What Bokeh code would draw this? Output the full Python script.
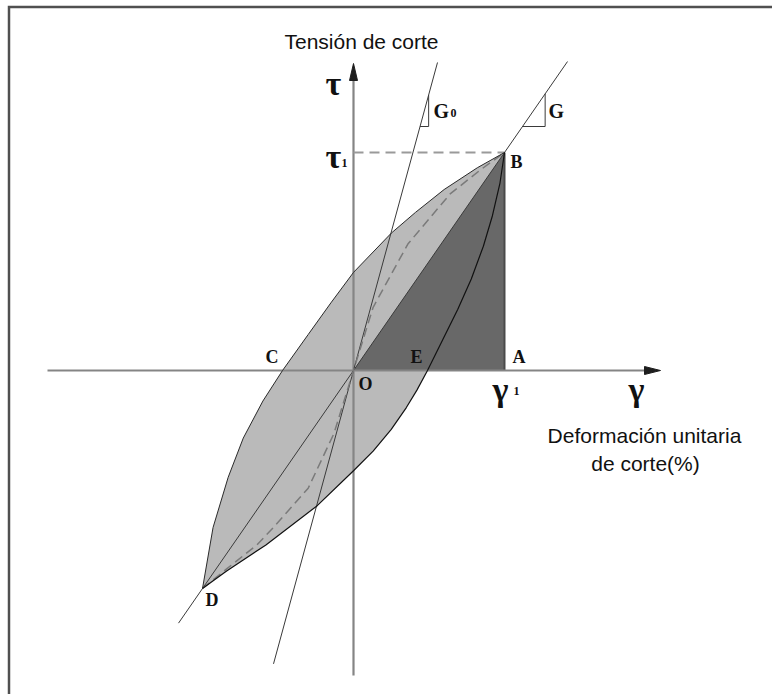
from bokeh.plotting import figure
from bokeh.models import Range1d
from bokeh.embed import file_html
from bokeh.resources import INLINE
from bokeh.core.properties import value

# ---------------- data (gamma in units of gamma1, tau in units of tau1) ----------------
gamma_upper = [-1.0, -0.93, -0.83, -0.73, -0.60, -0.47, -0.30, -0.15, 0.0, 0.25, 0.41, 0.60, 0.82, 1.0]
tau_upper = [-1.0, -0.72, -0.49, -0.31, -0.14, 0.0, 0.165, 0.31, 0.45, 0.63, 0.725, 0.83, 0.93, 1.0]

gamma_lower = [-1.0, -0.84, -0.58, -0.24, 0.0, 0.13, 0.25, 0.35, 0.42, 0.49, 0.59, 0.69, 0.78, 0.86, 0.92, 0.97, 1.0]
tau_lower = [-1.0, -0.92, -0.80, -0.62, -0.46, -0.37, -0.27, -0.17, -0.09, 0.0, 0.14, 0.28, 0.42, 0.57, 0.71, 0.86, 1.0]

gamma_backbone = [-1.0, -0.84, -0.64, -0.53, -0.30, -0.13, 0.0, 0.13, 0.36, 0.64, 0.84, 1.0]
tau_backbone = [-1.0, -0.91, -0.80, -0.72, -0.54, -0.29, 0.0, 0.29, 0.58, 0.81, 0.92, 1.0]

G_ratio = 1.0     # secant modulus G  (slope of line D-O-B)
G0_ratio = 2.54   # initial modulus G0 (relative slope)

point_names = ["O", "A", "B", "C", "D", "E"]
point_gamma = [0.0, 1.0, 1.0, -0.47, -1.0, 0.49]
point_tau = [0.0, 0.0, 1.0, 0.0, -1.0, 0.0]

title_tau = "Tensión de corte"
title_gamma = ["Deformación unitaria", "de corte(%)"]

# ---------------- layout geometry (reference image pixels) ----------------
OX, OY = 353.0, 370.0   # origin O in page pixels
SX, SY = 151.0, 218.0   # pixels per unit
W, H = 772, 694


def X(px):
    return (px - OX) / SX


def Y(py):
    return (OY - py) / SY


def TB(py, fs):
    # text baseline position, compensating renderer offset
    return Y(py - 0.35 * fs)


p = figure(width=W, height=H, output_backend="svg", toolbar_location=None,
           x_axis_type=None, y_axis_type=None, min_border=0,
           x_range=Range1d(X(0), X(W)), y_range=Range1d(Y(H), Y(0)))
p.outline_line_color = None
p.background_fill_color = "white"
p.border_fill_color = "white"
p.grid.visible = False

# frame border (left + top), running off the canvas
p.line([X(8.5), X(8.5), X(W + 20)], [Y(H + 20), Y(6.5), Y(6.5)], line_color="#505050",
       line_width=2.5, line_join="miter")

# hysteresis loop fill
loop_x = gamma_upper + gamma_lower[::-1]
loop_y = tau_upper + tau_lower[::-1]
p.patch(loop_x, loop_y, fill_color="#bababa", line_color=None)

# dark triangle O-A-B
iO, iA, iB = point_names.index("O"), point_names.index("A"), point_names.index("B")
p.patch([point_gamma[iO], point_gamma[iA], point_gamma[iB]],
        [point_tau[iO], point_tau[iA], point_tau[iB]],
        fill_color="#686868", line_color=None)
p.line([point_gamma[iA], point_gamma[iB]], [point_tau[iA], point_tau[iB]],
       line_color="#4a4a4a", line_width=2)

# axes
ax_l, ax_r = X(47), X(645)
ay_b, ay_t = Y(675), Y(79)
p.line([ax_l, ax_r], [0, 0], line_color="#858585", line_width=2.2)
p.line([0, 0], [ay_b, ay_t], line_color="#858585", line_width=2.2)
# arrow heads
p.patch([X(644), X(660), X(644)], [Y(374), 0, Y(366)], fill_color="#1e1e1e", line_color="#1e1e1e")
p.patch([X(349), 0, X(357)], [Y(80), Y(63), Y(80)], fill_color="#1e1e1e", line_color="#1e1e1e")

# tau1 dashed reference
p.line([0, point_gamma[iB]], [point_tau[iB], point_tau[iB]], line_color="#9a9a9a",
       line_width=2, line_dash="10 6")

# G line through D, O, B
g_x = [X(178), X(567)]
p.line(g_x, [G_ratio * v for v in g_x], line_color="#3a3a3a", line_width=1)
# G0 line through O
g0_x = [X(273), X(437)]
p.line(g0_x, [G0_ratio * v for v in g0_x], line_color="#3a3a3a", line_width=1)

# slope triangles
t_x0, t_run = X(522), 0.15
p.line([t_x0, t_x0 + t_run, t_x0 + t_run],
       [G_ratio * t_x0, G_ratio * t_x0, G_ratio * (t_x0 + t_run)], line_color="#3a3a3a", line_width=1)
t0_y0 = Y(126)
t0_x0 = t0_y0 / G0_ratio
t0_run = 0.057
p.line([t0_x0, t0_x0 + t0_run, t0_x0 + t0_run],
       [t0_y0, t0_y0, G0_ratio * (t0_x0 + t0_run)], line_color="#3a3a3a", line_width=1)

# backbone curve (dashed)
p.line(gamma_backbone, tau_backbone, line_color="#7a7a7a", line_width=1.5, line_dash="9 5")

# loop branches
p.line(gamma_upper, tau_upper, line_color="#2a2a2a", line_width=1)
p.line(gamma_lower, tau_lower, line_color="#111111", line_width=1.2)

# ---------------- labels ----------------
serif = value("Liberation Serif")
sans = value("Liberation Sans")

# point letters (pixel offsets of label from point: dx right, dy down to baseline)
fs_pt = 18
offsets = {"O": (5, 20), "A": (8, -7), "B": (6, 16), "C": (-17, -7), "D": (3, 18), "E": (-17, -7)}
lx = [point_gamma[i] + offsets[n][0] / SX for i, n in enumerate(point_names)]
ly = [point_tau[i] - (offsets[n][1] - 0.35 * fs_pt) / SY for i, n in enumerate(point_names)]
p.text(lx, ly, text=point_names, text_font=serif, text_font_style="bold",
       text_font_size=f"{fs_pt}px", text_color="#111111", text_baseline="alphabetic", text_align="left")

# G, G0 labels
p.text([X(433), X(548)], [TB(117, 20), TB(117, 20)], text=["G", "G"], text_font=serif,
       text_font_style="bold", text_font_size="20px", text_color="#111111",
       text_baseline="alphabetic", text_align="left")

# greek symbols
p.text([X(325), X(325), X(492), X(628)], [TB(95, 34), TB(168, 34), TB(401, 34), TB(401, 34)],
       text=["τ", "τ", "γ", "γ"], text_font=serif, text_font_style="bold",
       text_font_size="34px", text_color="#111111", text_baseline="alphabetic", text_align="left")

# subscripts
p.text([X(341), X(513), X(450)], [TB(167, 12), TB(395, 12), TB(117, 12)], text=["1", "1", "0"],
       text_font=serif, text_font_style="bold", text_font_size="12px", text_color="#111111",
       text_baseline="alphabetic", text_align="left")

# axis titles
p.text([X(361)], [TB(48, 21)], text=[title_tau], text_font=sans, text_font_size="21px",
       text_color="#111111", text_baseline="alphabetic", text_align="center")
p.text([X(644), X(645)], [TB(442, 21), TB(470, 21)], text=title_gamma, text_font=sans,
       text_font_size="21px", text_color="#111111", text_baseline="alphabetic", text_align="center")

open("out.html", "w").write(file_html(p, INLINE))
